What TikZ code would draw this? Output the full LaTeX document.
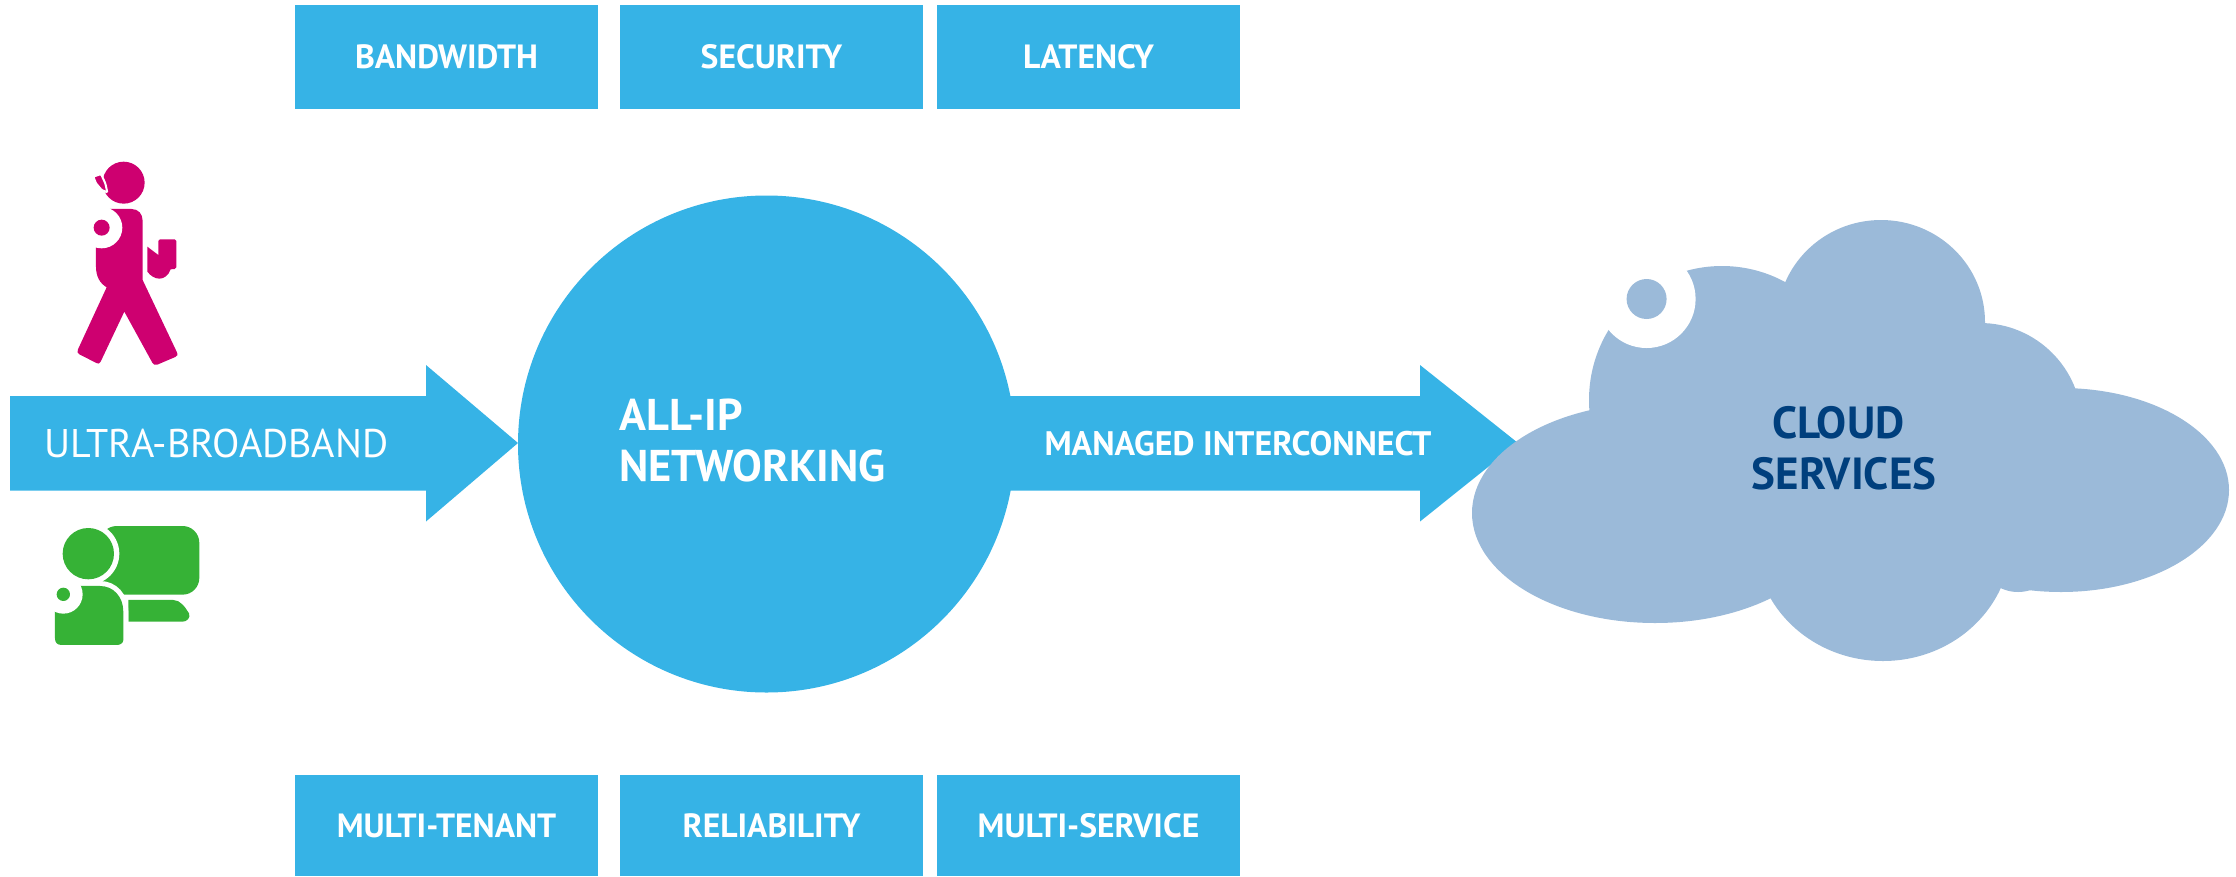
\documentclass[tikz,border=0pt]{standalone}
\usepackage{fontspec}
\setmainfont{PT Sans}
\definecolor{skyb}{HTML}{36B3E6}
\definecolor{pinkm}{HTML}{CE0070}
\definecolor{greenm}{HTML}{36B236}
\definecolor{cloudb}{HTML}{9BBAD9}
\definecolor{navyb}{HTML}{003F7D}
\tikzset{
  tile/.style={fill=skyb,draw=none,minimum width=303pt,inner sep=0pt,text=white,font=\fontsize{33.6}{40}\selectfont\bfseries,anchor=center},
  tiletop/.style={tile,minimum height=104pt},
  tilebot/.style={tile,minimum height=101pt},
  band/.style={fill=skyb,draw=none},
  lobe/.style={fill=cloudb,draw=none},
  lab/.style={inner sep=0pt,text=white}
}
\begin{document}
\begin{tikzpicture}[x=1pt,y=-1pt]
\useasboundingbox (0,0) rectangle (2236,876);
% tiles
\node[tiletop] (t1) at (446.5,57) {BANDWIDTH};
\node[tiletop] (t2) at (771.5,57) {SECURITY};
\node[tiletop] (t3) at (1088.5,57) {LATENCY};
\node[tilebot] (b1) at (446.5,825.5) {MULTI-TENANT};
\node[tilebot] (b2) at (771.5,825.5) {RELIABILITY};
\node[tilebot] (b3) at (1088.5,825.5) {MULTI-SERVICE};
% arrows and circle
\coordinate (a1s) at (10,396);
\coordinate (a2s) at (900,396);
\fill[band] (a1s) -- (426,396) -- (426,365) -- (518,443) -- (426,521.5) -- (426,490.5) -- (10,490.5) -- cycle;
\fill[band] (a2s) -- (1420,396) -- (1420,365) -- (1518,443) -- (1420,521.5) -- (1420,490.5) -- (900,490.5) -- cycle;
\node[circle,fill=skyb,minimum size=497pt,inner sep=0pt] (hub) at (766.5,444) {};
% cloud
\fill[lobe] (1883,541) ellipse [x radius=128,y radius=120];
\fill[lobe] (2061,490) ellipse [x radius=168,y radius=102];
\fill[lobe] (1881,322) ellipse [x radius=104,y radius=102];
\fill[lobe] (1980,425) circle [radius=102];
\fill[lobe] (1722,400) ellipse [x radius=133,y radius=134];
\fill[lobe] (2018,500) ellipse [x radius=60,y radius=92];
\fill[lobe] (1700,400) -- (2050,400) -- (2035,585) -- (1700,560) -- cycle;
\fill[white] (1646.6,299) circle [radius=49];
\fill[lobe] (1646.6,299) circle [radius=20];
\fill[lobe] (1655,513) ellipse [x radius=183,y radius=110];
% texts
\node[lab,anchor=west,font=\fontsize{40}{48}\selectfont] (ub) at (44,443) {ULTRA-BROADBAND};
\node[lab,anchor=west,font=\fontsize{44.5}{51}\selectfont\bfseries,align=left] (ip) at (619,441) {ALL-IP\\NETWORKING};
\node[lab,anchor=center,font=\fontsize{34}{40}\selectfont\bfseries] (mi) at (1238,444) {MANAGED INTERCONNECT};
\node[inner sep=0pt,text=navyb,font=\fontsize{45}{51}\selectfont\bfseries,align=center] (cs) at (1844,448) {CLOUD\hspace*{11pt}\\SERVICES};
% pink person, in reference-crop coordinates
\begin{scope}[shift={(0,130)},x=0.3333pt,y=-0.3333pt]
\fill[pinkm] (371,158) circle [radius=63];
\draw[white,line width=2pt,fill=pinkm,rounded corners=1pt] (280,140) -- (303,132) -- (316,160) -- (322,187) -- (305,180) -- (288,160) -- cycle;
\fill[pinkm] (330,237) -- (395,237) .. controls (415,237) and (428,252) .. (428,272) -- (428,450) -- (530,665) .. controls (535,675) and (532,678) .. (526,681) -- (472,704) .. controls (464,707) and (460,703) .. (457,698) -- (373,545) -- (302,695) .. controls (299,702) and (295,702) .. (289,699) -- (238,673) .. controls (232,670) and (231,665) .. (234,658) -- (320,472) .. controls (300,460) and (288,440) .. (288,410) -- (288,352) -- cycle;
\fill[white] (305,293) circle [radius=62];
\fill[pinkm] (305,293) circle [radius=24];
\fill[pinkm] (442,350) -- (475,375) -- (475,335) .. controls (475,330) and (478,328) .. (482,328) -- (524,328) .. controls (527,328) and (529,330) .. (529,333) -- (529,412) .. controls (529,416) and (527,417) .. (524,417) -- (512,418) .. controls (505,437) and (492,446) .. (478,446) .. controls (465,446) and (452,438) .. (442,425) -- cycle;
\end{scope}
% green person, in reference-crop coordinates
\begin{scope}[shift={(0,480)},x=0.3333pt,y=-0.3333pt]
\fill[greenm,rounded corners=16.7pt] (300,138) rectangle (598,344);
\fill[greenm] (385,360) -- (520,360) .. controls (540,360) and (555,380) .. (567,400) .. controls (573,414) and (560,425) .. (548,425) -- (385,425) -- cycle;
\fill[white] (265,221) circle [radius=93];
\fill[greenm] (265,221) circle [radius=77];
\draw[white,line width=10pt,fill=greenm] (165,318) -- (300,318) .. controls (340,318) and (370,350) .. (370,395) -- (370,480) .. controls (370,490) and (360,495) .. (350,495) -- (185,495) .. controls (172,495) and (165,488) .. (165,475) -- cycle;
\fill[greenm] (165,318) -- (300,318) .. controls (340,318) and (370,350) .. (370,395) -- (370,480) .. controls (370,490) and (360,495) .. (350,495) -- (185,495) .. controls (172,495) and (165,488) .. (165,475) -- cycle;
\fill[white] (190,343) circle [radius=58];
\fill[greenm] (190,343) circle [radius=20];
\end{scope}
\end{tikzpicture}
\end{document}
